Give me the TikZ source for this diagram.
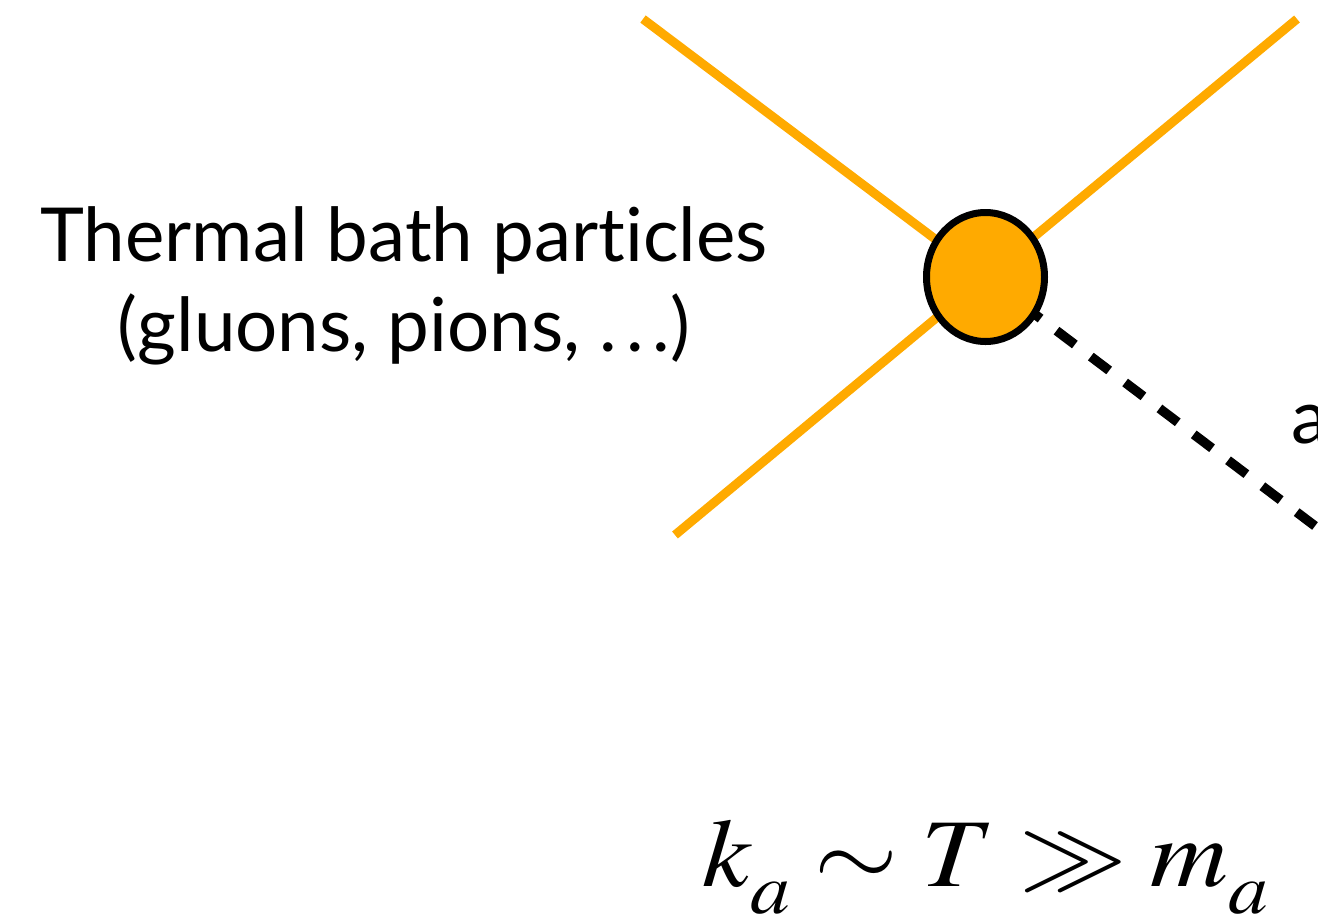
\documentclass[tikz,border=0pt]{standalone}
\usepackage{mathptmx}
\usepackage{fontspec}
\newfontfamily\labelfont[Ligatures={NoCommon}]{Lato}
\usetikzlibrary{shapes.geometric}
\definecolor{bathorange}{RGB}{255,170,0}
\tikzset{
  bathline/.style={draw=bathorange, line width=9pt},
  axionline/.style={draw=black, line width=9.5pt, dash pattern=on 23pt off 20pt, dash phase=40pt},
  blob/.style={ellipse, draw=black, line width=7pt, fill=bathorange, minimum width=118pt, minimum height=129pt, inner sep=0pt},
  lbl/.style={font=\labelfont\fontsize{74.5}{88}\selectfont, inner sep=0pt, anchor=base}
}
\newcommand{\lowsub}[1]{_{\lower13pt\hbox{$\scriptstyle #1$}}}
\begin{document}
\begin{tikzpicture}[x=1pt,y=-1pt]
\useasboundingbox (0,0) rectangle (1318,919);
\coordinate (c) at (985.5,277);
\coordinate (p1) at (643,19);
\coordinate (p2) at (1297,19);
\coordinate (p3) at (675,535);
\coordinate (p4) at (1315,526);
\draw[bathline] (p1) -- (c);
\draw[bathline] (p2) -- (c);
\draw[bathline] (p3) -- (c);
\draw[axionline] (c) -- (p4);
\node[blob] (v) at (c) {};
\node[lbl] (t1) at (404,261) {Thermal bath particles};
\node[lbl] (t2) at (404,351) {(gluons, pions, .\kern9pt.\kern9pt.)};
\node[lbl, anchor=base west] (a) at (1291,443) {a};
\node[inner sep=0pt, anchor=base west, font=\fontsize{97}{110}\selectfont] (f) at (702,886) {\scalebox{1.11}[1]{$k\lowsub{a} \sim T \gg m\lowsub{a}$}};
\end{tikzpicture}
\end{document}
